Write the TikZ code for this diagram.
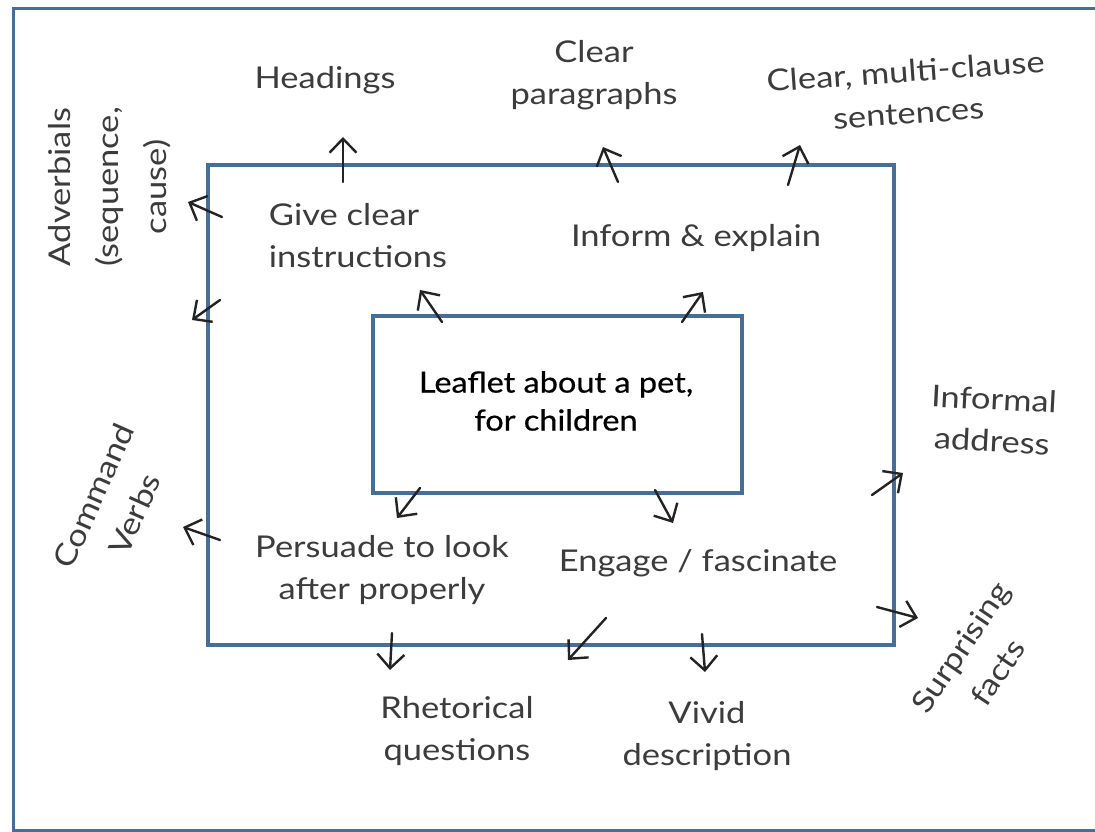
\documentclass[tikz,border=0pt]{standalone}
\usepackage{fontspec}
\setmainfont{Lato}[FakeStretch=1.15]
\newfontfamily\leaffont{Lato}[FakeStretch=1.12,FakeBold=0.6]
\usetikzlibrary{arrows.meta}
\definecolor{frame}{RGB}{72,110,150}
\definecolor{ink}{RGB}{60,60,60}
\definecolor{arrowink}{RGB}{35,35,35}
\tikzset{
  boxline/.style={draw=frame, line width=3.6pt},
  lbl/.style={text=ink, font=\fontsize{30}{42}\selectfont, inner sep=0pt, align=center},
  ptr/.style={draw=arrowink, line width=2.4pt, line cap=round,
    -{Straight Barb[length=14pt,width=27pt,line width=2.4pt]}},
}
\begin{document}
\begin{tikzpicture}[x=1pt,y=-1pt]
\useasboundingbox (0,0) rectangle (1095,832);
% outer frame
\draw[draw=frame, line width=3pt] (13,9) rectangle (1099,830);
% middle and inner boxes
\node[boxline, minimum width=686pt, minimum height=480pt, inner sep=0pt] (mid) at (551,405) {};
\node[boxline, minimum width=369pt, minimum height=177pt, inner sep=0pt] (leaf) at (557.5,404.5) {};
\node[inner sep=0pt, align=center, text=black, font=\leaffont\fontsize{29}{38}\selectfont] (leaftxt) at (556,401)
      {Leaflet about a pet,\\for children};

% outer labels
\node[lbl] (head) at (325,80) {Headings};
\node[lbl] (para) at (594,75) {Clear\\paragraphs};
\node[lbl, rotate=4] (sent) at (907,92) {Clear, multi-clause\\sentences};
\node[lbl, rotate=90, font=\fontsize{30}{48}\selectfont] (adv) at (110,187) {Adverbials\\(sequence,\\cause)};
\node[lbl, rotate=66, font=\fontsize{30}{45}\selectfont] (cmd) at (114,505) {Command\\Verbs};
\node[lbl, rotate=-3] (inf) at (993,420) {Informal\\address};
\node[lbl, rotate=56, font=\fontsize{30}{45}\selectfont] (surp) at (979,660) {Surprising\\facts};
\node[lbl] (rhet) at (457,731) {Rhetorical\\questions};
\node[lbl] (vivid) at (707,736) {Vivid\\description};

% purpose labels
\node[lbl, align=left] (give) at (358,236) {Give clear\\instructions};
\node[lbl] (inform) at (696,238) {Inform \& explain};
\node[lbl] (pers) at (382,570) {Persuade to look\\after properly};
\node[lbl] (eng) at (698,563) {Engage / fascinate};

% arrow end points
\coordinate (h0) at (343,182);  \coordinate (h1) at (343,137);
\coordinate (p0) at (618,182);  \coordinate (p1) at (603,147);
\coordinate (s0) at (788,185);  \coordinate (s1) at (800,145);
\coordinate (a0) at (222,217);  \coordinate (a1) at (188,202);
\coordinate (b0) at (220,300);  \coordinate (b1) at (192,320);
\coordinate (g0) at (442,322);  \coordinate (g1) at (420,290);
\coordinate (i0) at (682,322);  \coordinate (i1) at (703,292);
\coordinate (q0) at (420,488);  \coordinate (q1) at (397,518);
\coordinate (e0) at (655,490);  \coordinate (e1) at (673,523);
\coordinate (c0) at (220,540);  \coordinate (c1) at (183,527);
\coordinate (r0) at (392,633);  \coordinate (r1) at (390,670);
\coordinate (d0) at (606,618);  \coordinate (d1) at (568,660);
\coordinate (v0) at (702,634);  \coordinate (v1) at (705,672);
\coordinate (f0) at (872,495);  \coordinate (f1) at (903,473);
\coordinate (u0) at (877,607);  \coordinate (u1) at (918,618);

\draw[ptr] (h0) -- (h1);
\draw[ptr] (p0) -- (p1);
\draw[ptr] (s0) -- (s1);
\draw[ptr] (a0) -- (a1);
\draw[ptr] (b0) -- (b1);
\draw[ptr] (g0) -- (g1);
\draw[ptr] (i0) -- (i1);
\draw[ptr] (q0) -- (q1);
\draw[ptr] (e0) -- (e1);
\draw[ptr] (c0) -- (c1);
\draw[ptr] (r0) -- (r1);
\draw[ptr] (d0) -- (d1);
\draw[ptr] (v0) -- (v1);
\draw[ptr] (f0) -- (f1);
\draw[ptr] (u0) -- (u1);
\end{tikzpicture}
\end{document}
